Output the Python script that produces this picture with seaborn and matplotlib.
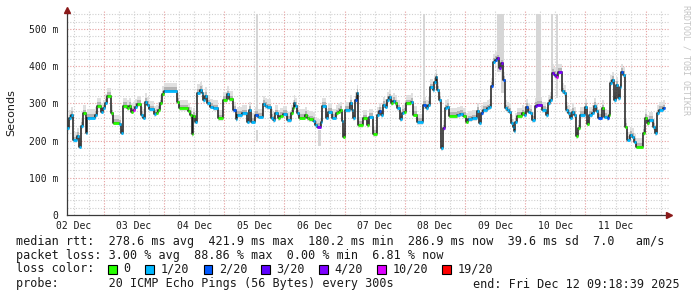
import matplotlib
matplotlib.use("Agg")
import matplotlib.pyplot as plt
import matplotlib.dates as mdates
from matplotlib.patches import Rectangle
import numpy as np
import pandas as pd
import seaborn as sns
from datetime import datetime, timedelta

# ---------------- data ----------------
start_time = datetime(2025, 12, 2, 9, 18, 39)
span_hours = 240
end_hours = 238.4

t_hours = [
    0, 0.7, 1.5, 2.3, 4.1, 4.7, 5.7, 6.3, 7.6, 8.1,
    11.2, 12.1, 13.4, 14.2, 15.0, 15.8, 17.4, 18.2, 20.6, 21.4,
    22.2, 23.8, 24.6, 25.4, 26.2, 27.0, 27.8, 29.4, 30.2, 31.2,
    32.0, 32.8, 34.7, 35.5, 36.4, 37.1, 37.9, 38.7, 43.7, 44.5,
    48.4, 49.0, 49.7, 50.4, 51.2, 52.0, 53.0, 53.7, 54.4, 55.2,
    56.0, 57.0, 58.3, 60.3, 62.1, 63.7, 64.5, 66.0, 67.4, 67.9,
    69.6, 71.6, 72.7, 73.2, 74.9, 76.3, 78.3, 79.1, 79.9, 81.2,
    82.0, 82.8, 84.1, 84.9, 86.0, 87.6, 89.2, 90.0, 90.5, 91.0,
    91.6, 92.4, 94.9, 95.6, 96.3, 98.2, 99.0, 99.8, 101.1, 101.7,
    103.3, 104.1, 105.6, 107.2, 108.0, 108.8, 109.6, 110.2, 111.0, 112.8,
    113.5, 114.2, 114.8, 115.5, 116.1, 118.1, 119.5, 120.3, 121.9, 123.5,
    124.3, 125.1, 125.9, 126.6, 127.4, 128.2, 129.0, 129.8, 130.6, 131.4,
    132.8, 133.6, 134.3, 135.1, 137.0, 138.1, 139.4, 142.1, 143.1, 144.1,
    144.7, 145.8, 146.3, 147.1, 147.6, 148.4, 149.0, 149.8, 150.6, 151.4,
    152.2, 155.4, 156.7, 158.0, 159.1, 160.0, 161.3, 163.3, 164.1, 164.9,
    165.7, 167.3, 168.4, 168.9, 169.7, 170.5, 171.3, 172.1, 172.9, 173.7,
    174.5, 175.3, 176.1, 176.9, 177.7, 178.2, 178.7, 179.3, 181.3, 182.2,
    183.0, 183.8, 184.6, 185.4, 186.7, 187.5, 189.4, 191.0, 191.8, 192.6,
    193.2, 194.1, 194.9, 195.7, 197.3, 198.1, 198.9, 199.7, 200.5, 201.3,
    202.1, 202.9, 203.7, 204.5, 206.7, 207.5, 208.3, 209.3, 210.1, 210.9,
    211.7, 213.3, 214.1, 215.1, 215.9, 216.5, 217.3, 218.1, 218.9, 219.7,
    220.5, 221.0, 221.8, 222.6, 223.4, 224.4, 225.2, 226.0, 226.8, 229.8,
    230.5, 231.3, 232.1, 233.7, 234.5, 235.3, 236.1, 237.7,
]

median_ms = [
    233, 260, 269, 201, 212, 184, 239, 273, 221, 262,
    269, 293, 278, 287, 302, 320, 273, 248, 245, 221,
    293, 287, 293, 278, 282, 291, 298, 269, 262, 305,
    296, 284, 271, 275, 282, 300, 324, 334, 305, 287,
    280, 269, 218, 266, 251, 329, 336, 327, 309, 321,
    300, 291, 287, 260, 309, 324, 311, 282, 257, 269,
    273, 251, 282, 251, 269, 264, 298, 293, 289, 262,
    255, 273, 260, 266, 271, 255, 273, 287, 300, 293,
    273, 262, 269, 260, 257, 254, 242, 237, 251, 293,
    262, 278, 262, 273, 278, 282, 254, 211, 282, 300,
    282, 260, 309, 328, 242, 260, 242, 264, 218, 269,
    280, 269, 296, 291, 309, 316, 300, 307, 300, 287,
    257, 275, 278, 300, 305, 270, 250, 296, 287, 296,
    343, 336, 358, 370, 336, 309, 179, 233, 287, 291,
    266, 269, 271, 266, 251, 257, 260, 280, 248, 273,
    282, 287, 289, 347, 412, 417, 421, 394, 408, 363,
    287, 282, 278, 248, 237, 227, 251, 266, 273, 269,
    291, 278, 275, 255, 293, 296, 282, 269, 300, 309,
    383, 376, 372, 385, 332, 327, 282, 273, 262, 278,
    269, 212, 233, 269, 291, 245, 269, 275, 293, 280,
    262, 287, 264, 260, 269, 354, 363, 309, 349, 314,
    343, 385, 376, 237, 202, 215, 211, 197, 184, 220,
    262, 246, 255, 236, 220, 273, 282, 287,
]

loss_20 = [
    1, 1, 1, 1, 1, 1, 1, 0, 1, 1,
    1, 0, 1, 1, 1, 0, 0, 0, 1, 1,
    0, 0, 0, 0, 10, 1, 0, 1, 1, 1,
    1, 1, 1, 0, 0, 0, 0, 1, 0, 0,
    0, 0, 0, 0, 1, 1, 1, 1, 1, 1,
    1, 1, 1, 0, 0, 1, 0, 2, 1, 1,
    1, 1, 1, 1, 2, 1, 1, 1, 1, 1,
    1, 1, 0, 0, 1, 1, 0, 0, 1, 1,
    1, 0, 0, 0, 0, 1, 1, 4, 1, 1,
    1, 1, 1, 0, 0, 0, 1, 0, 1, 1,
    1, 1, 2, 1, 0, 0, 0, 1, 0, 1,
    2, 1, 1, 1, 1, 1, 0, 1, 0, 1,
    1, 1, 0, 0, 1, 0, 1, 2, 1, 1,
    1, 1, 1, 1, 1, 1, 1, 4, 1, 1,
    0, 1, 1, 0, 0, 1, 1, 1, 1, 2,
    1, 1, 1, 2, 1, 2, 4, 4, 4, 2,
    1, 1, 1, 1, 1, 1, 1, 0, 0, 1,
    2, 1, 1, 1, 3, 4, 1, 1, 1, 1,
    4, 3, 10, 4, 1, 1, 1, 1, 1, 1,
    1, 0, 0, 1, 1, 0, 1, 1, 1, 1,
    2, 0, 1, 2, 0, 1, 1, 1, 1, 1,
    1, 2, 1, 0, 1, 1, 1, 1, 0, 0,
    0, 0, 1, 1, 1, 1, 1, 2,
]

# tall smoke excursions (hours from start, ms)
spike_t0 = [75.4, 75.4, 100.2, 141.9, 171.6, 173.0, 187.0, 193.0, 194.8]
spike_t1 = [76.3, 76.3, 101.1, 142.9, 173.0, 174.3, 189.0, 193.6, 195.6]
spike_lo = [269, 197, 185, 285, 385, 328, 301, 382, 315]
spike_hi = [540, 228, 228, 540, 540, 540, 540, 540, 540]

# typical smoke spread around the median (ms)
smoke_outer = (-7, 22)
smoke_inner = (-3, 10)

loss_levels = [0, 1, 2, 3, 4, 10, 19]
loss_labels = ["0", "1/20", "2/20", "3/20", "4/20", "10/20", "19/20"]
loss_colors = ["#26ff00", "#00b8ff", "#0059ff", "#5e00ff", "#7e00ff", "#dd00ff", "#ff0000"]

y_ticks = [0, 100, 200, 300, 400, 500]
y_tick_labels = ["0", "100 m", "200 m", "300 m", "400 m", "500 m"]

line_rtt = "median rtt:  278.6 ms avg  421.9 ms max  180.2 ms min  286.9 ms now  39.6 ms sd  7.0   am/s"
line_loss = "packet loss: 3.00 % avg  88.86 % max  0.00 % min  6.81 % now"
line_probe = "probe:       20 ICMP Echo Pings (56 Bytes) every 300s"
line_end = "end: Fri Dec 12 09:18:39 2025"
watermark = "RRDTOOL / TOBI OETIKER"

# ---------------- drawing ----------------
sns.set_style("white")
plt.rcParams["font.family"] = ["DejaVu Sans Mono", "DejaVu Sans"]

W, H = 697, 297
fig = plt.figure(figsize=(W / 100, H / 100), dpi=100)
fig.patch.set_facecolor("white")
ax = fig.add_axes([67 / W, 82 / H, 602 / W, (215 - 10.4) / H])
ax.set_facecolor("white")

def hnum(h):
    return mdates.date2num(start_time + timedelta(hours=float(h)))

x0, x1 = hnum(0), hnum(span_hours)
ax.set_xlim(x0, x1)
ax.set_ylim(0, 550)

# grid
minor_col, major_col = "#d0d0d0", "#e6a0a0"
dots = (0, (1, 1.5))
for v in range(20, 541, 20):
    if v % 100:
        ax.axhline(v, color=minor_col, lw=0.8, ls=dots, zorder=0)
for v in range(100, 501, 100):
    ax.axhline(v, color=major_col, lw=0.8, ls=dots, zorder=0)
first_mid = datetime(2025, 12, 2)
for k in range(0, 11 * 4):
    tt = first_mid + timedelta(hours=6 * k)
    xn = mdates.date2num(tt)
    if xn <= x0 or xn >= x1:
        continue
    if k % 4 == 0:
        ax.axvline(xn, color=major_col, lw=0.8, ls=dots, zorder=0)
    else:
        ax.axvline(xn, color=minor_col, lw=0.8, ls=dots, zorder=0)

df = pd.DataFrame({"t": t_hours, "ms": median_ms, "loss": loss_20})
df["x"] = [hnum(h) for h in df["t"]]
x_edges = list(df["x"]) + [hnum(end_hours)]
y_ext = list(df["ms"]) + [df["ms"].iloc[-1]]
y_arr = np.array(y_ext, dtype=float)

# smoke
ax.fill_between(x_edges, y_arr + smoke_outer[0], y_arr + smoke_outer[1], step="post",
                color="#e0e0e0", lw=0, zorder=1)
for a, b, lo, hi in zip(spike_t0, spike_t1, spike_lo, spike_hi):
    ax.fill_between([hnum(a), hnum(b)], [lo, lo], [hi, hi], color="#d6d6d6", lw=0, zorder=1)
ax.fill_between(x_edges, y_arr + smoke_inner[0], y_arr + smoke_inner[1], step="post",
                color="#b4b4b4", lw=0, zorder=2)

# median line
sns.lineplot(x=x_edges, y=y_ext, drawstyle="steps-post", color="#1a1a1a", lw=1.1,
             estimator=None, ax=ax, zorder=3)

def loss_color(l):
    c = loss_colors[0]
    for lv, col in zip(loss_levels, loss_colors):
        if l >= lv:
            c = col
    return c

seg_cols = [loss_color(l) for l in df["loss"]]
ax.hlines(df["ms"], x_edges[:-1], x_edges[1:], colors=seg_cols, lw=2.0, zorder=4)

# axes styling
for s in ["top", "right"]:
    ax.spines[s].set_visible(False)
for s in ["left", "bottom"]:
    ax.spines[s].set_color("#3a3a3a")
    ax.spines[s].set_linewidth(0.9)
ax.plot([1.0], [0.0], marker=">", color="#8b1a1a", ms=4, transform=ax.transAxes, clip_on=False, zorder=6)
ax.plot([0.0], [1.0], marker="^", color="#8b1a1a", ms=4, transform=ax.transAxes, clip_on=False, zorder=6)

ax.set_yticks(y_ticks)
ax.set_yticklabels(y_tick_labels)
noons = [datetime(2025, 12, 2 + d, 12) for d in range(10)]
ax.set_xticks([mdates.date2num(n) for n in noons])
ax.set_xticklabels([n.strftime("%d %b") for n in noons])
ax.tick_params(axis="both", length=0, labelsize=7, colors="#1a1a1a")
ax.tick_params(axis="y", pad=6)
ax.tick_params(axis="x", pad=4)
ax.set_xlabel("")
ax.set_ylabel("")

fig.text(11 / W, 1 - 113 / H, "Seconds", rotation=90, ha="center", va="center",
         fontsize=8, family="DejaVu Sans", color="#1a1a1a")
fig.text(686 / W, 1 - 60 / H, watermark, rotation=270, ha="center", va="center",
         fontsize=6, color="#c4c4c4")

fs = 8.5
tx = 16 / W
fig.text(tx, 1 - 241 / H, line_rtt, ha="left", va="center", fontsize=fs, color="#1a1a1a")
fig.text(tx, 1 - 256 / H, line_loss, ha="left", va="center", fontsize=fs, color="#1a1a1a")
fig.text(tx, 1 - 269 / H, "loss color:", ha="left", va="center", fontsize=fs, color="#1a1a1a")
fig.text(tx, 1 - 284 / H, line_probe, ha="left", va="center", fontsize=fs, color="#1a1a1a")
fig.text(680 / W, 1 - 284 / H, line_end, ha="right", va="center", fontsize=fs, color="#1a1a1a")

sw_x = [108, 145, 203.5, 261, 319, 377, 442]
for sx, col, lab in zip(sw_x, loss_colors, loss_labels):
    fig.add_artist(Rectangle((sx / W, 1 - 273.5 / H), 8.5 / W, 9 / H, transform=fig.transFigure,
                             facecolor=col, edgecolor="black", lw=0.8))
    fig.text((sx + 15.5) / W, 1 - 269 / H, lab, ha="left", va="center", fontsize=fs, color="#1a1a1a")

fig.savefig("out.png", dpi=100, facecolor="white")
